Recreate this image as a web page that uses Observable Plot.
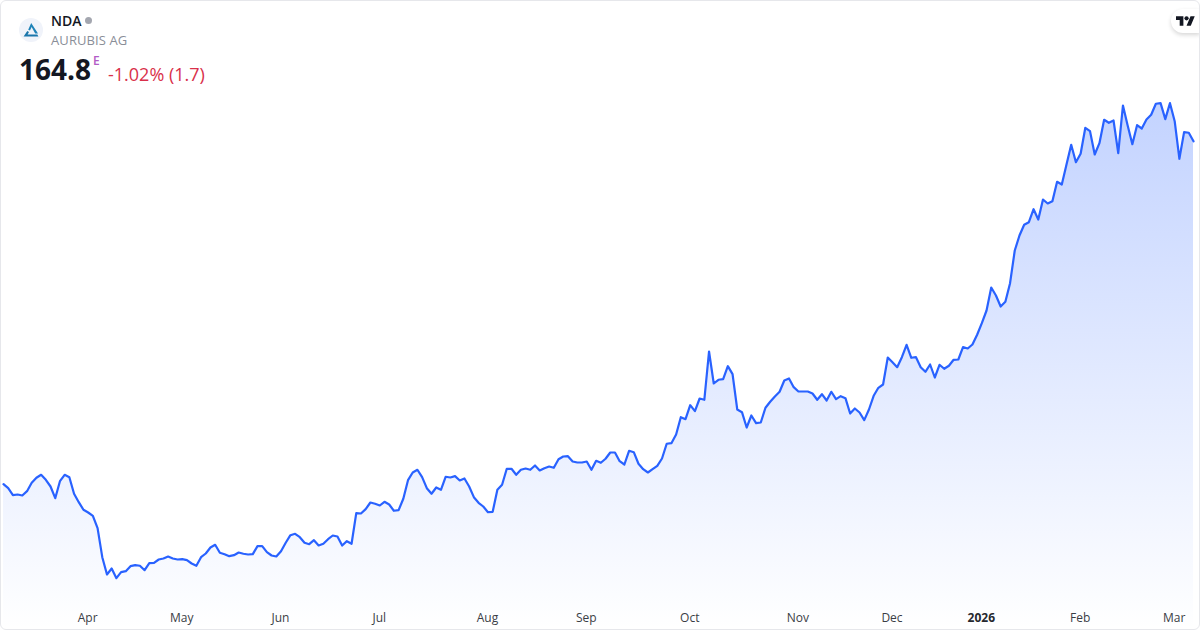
<!DOCTYPE html>
<html>
<head>
<meta charset="utf-8">
<script src="https://cdn.jsdelivr.net/npm/d3@7"></script>
<script src="https://cdn.jsdelivr.net/npm/@observablehq/plot@0.6"></script>
<style>
html,body{margin:0;padding:0;background:#fff;}
body{width:1200px;height:630px;overflow:hidden;position:relative;font-family:"Open Sans","Noto Sans",sans-serif;}
#chart{position:absolute;left:0;top:0;}
#chart svg{display:block;}
#frame{position:absolute;left:0;top:0;width:1198px;height:628px;border:1px solid #e6e7eb;border-radius:6px;pointer-events:none;}
.t{position:absolute;white-space:nowrap;line-height:1;}
#logo{position:absolute;left:19px;top:18px;}
#tv{position:absolute;left:1171px;top:9px;width:29px;height:24px;background:#fff;border-radius:12px 0 0 12px;box-shadow:0 2px 4px rgba(0,0,0,.16);}
</style>
</head>
<body>
<div id="chart"></div>
<svg id="logo" width="24" height="24" viewBox="0 0 24 24">
  <circle cx="12" cy="12" r="12" fill="#f0f3fa"/>
  <path d="M12.2 5 L9.2 11.8 L11 12.6 L12.6 9 L16.2 15.4 H19 Z" fill="#1f83b8"/>
  <path d="M8.3 13 L4.6 18.4 H19.4 L18.3 16.4 H8.6 L10 14 Z" fill="#1b76ab"/>
</svg>
<div class="t" id="sym" style="left:51px;top:14px;font-size:14px;font-weight:600;color:#131722;"></div>
<div style="position:absolute;left:85px;top:17px;width:7px;height:7px;border-radius:50%;background:#a3a6af;"></div>
<div class="t" id="name" style="left:51px;top:33.5px;font-size:13px;color:#8a8e98;letter-spacing:.1px;"></div>
<div class="t" id="price" style="left:19px;top:55px;font-size:28px;font-weight:700;color:#131722;"></div>
<div class="t" style="left:93px;top:55px;font-size:12px;font-weight:600;color:#b35cc6;">E</div>
<div class="t" id="chg" style="left:108px;top:65px;font-size:18px;color:#d9304a;"></div>
<div id="tv"><svg width="19" height="15" viewBox="0 0 36 28" style="position:absolute;left:5px;top:5px;"><path d="M14 22H7V11H0V4h14v18zM28 22h-8l7.5-18h8L28 22z" fill="#131722"/><circle cx="20" cy="8" r="4" fill="#131722"/></svg></div>
<div id="frame"></div>
<script>
const symbol = "NDA";
const company = "AURUBIS AG";
const lastPrice = "164.8";
const change = "-1.02% (1.7)";

const pricesSpring = [79.08,78.08,76.33,76.5,76.25,77.33,79.43,80.68,81.43,80.18,78.5,75.58,79.83,81.43,80.83,76.68,74.58,72.68,72,71.18,68.08,60.83,56.5,58,55.58,57.08,57.33,58.58,58.83,58.68,57.58,59.33,59.43,60.25,60.5,61,60.5,60.25,60.33,60.08,59.25,58.68,60.83,61.75,63.25,63.93,61.93,61.58,61.08,61.33,62,61.68,61.5,61.58,63.58,63.58,62.08,61.25,61,62.33,64.43,66.33,66.68,65.83];
const pricesSummer = [64.43,64.08,65.08,63.75,64.18,65.33,66.25,66,63.75,64.83,64.18,71.83,71.75,72.83,74.5,74.18,73.75,74.68,74,72.43,72.58,75.43,80.08,82,82.68,80.83,78.08,76.68,78.25,77.68,80.93,80.75,81.08,80,80.5,78.5,75.83,74.43,73.5,72.08,72.18,77.68,78.93,82.93,82.93,81.43,82.68,83,82.68,83.75,82.5,83.08,83.5,83.18,85.33,86,86.08,84.75,84.5,84.5,84.75,82.68,84.93,84.43];
const pricesAutumn = [85.43,87,87,84.83,84,87.43,87.08,84.18,82.83,82,82.83,83.68,85.5,89.18,89.33,91.5,95.83,95.33,98.83,97.33,100.5,100.18,112.25,104.25,105.18,105.33,108.58,106.58,97.75,97.08,93.25,96.25,94.33,94.5,98.18,99.68,101,102.18,105,105.5,103.33,102.25,102.25,102.25,101.75,100.18,101.58,100,102.18,100.33,101.08,100.58,96.75,98,97,95.08,97.75,101.18,103.18,104];
const pricesWinter = [110.75,109.58,108.33,110.83,113.93,110.68,110.83,108.33,107.18,109,105.75,108.93,107.93,108.68,110.18,110.25,113.33,113,114,116.43,119.33,122.5,128.25,126.25,123.5,124.68,129.33,137.5,141.25,143.93,144.58,147.83,145.25,150.25,149.25,149.83,154.68,154,159,163.93,159.58,161.68,168.18,167.33,161.5,164.33,170.18,169.43,170,161.83,173.75,168.75,164.08,168.83,168,170.25,171.43,174.18,174.33,170.33,174.33,169.83,160.43,167.08,166.93,164.8];

const monthLabels = ["Apr","May","Jun","Jul","Aug","Sep","Oct","Nov","Dec","Feb","Mar"];
const monthSessions = [18,38,59,80,103,124,146,169,189,229,249];
const yearLabel = "2026";
const yearSession = 208;

const prices = [...pricesSpring,...pricesSummer,...pricesAutumn,...pricesWinter];
const data = prices.map((p,i)=>({i,p}));
const floorPrice = 42.5;

document.getElementById("sym").textContent = symbol;
document.getElementById("name").textContent = company;
document.getElementById("price").textContent = lastPrice;
document.getElementById("chg").textContent = change;

const defs = () => {
  const ns = "http://www.w3.org/2000/svg";
  const d = document.createElementNS(ns,"defs");
  d.innerHTML = '<linearGradient id="areaFill" x1="0" y1="0" x2="0" y2="1">'+
    '<stop offset="0" stop-color="#2962ff" stop-opacity="0.28"/>'+
    '<stop offset="1" stop-color="#2962ff" stop-opacity="0"/></linearGradient>';
  return d;
};

const chart = Plot.plot({
  width:1200, height:630,
  marginTop:0, marginRight:0, marginLeft:0, marginBottom:22,
  style:{background:"transparent",fontFamily:'"Open Sans","Noto Sans",sans-serif'},
  x:{domain:[0,prices.length-1],range:[3,1193],axis:null},
  y:{domain:[floorPrice,200],range:[630,0],axis:null},
  marks:[
    defs,
    Plot.areaY(data,{x:"i",y1:floorPrice,y2:"p",fill:"url(#areaFill)"}),
    Plot.lineY(data,{x:"i",y:"p",stroke:"#2962ff",strokeWidth:2.2,strokeLinejoin:"round"}),
    Plot.axisX(monthSessions,{anchor:"bottom",tickSize:0,tickPadding:5,dx:-0.5,fontSize:12,fill:"#3a3d45",
      label:null,tickFormat:(d)=>monthLabels[monthSessions.indexOf(d)]}),
    Plot.axisX([yearSession],{anchor:"bottom",tickSize:0,tickPadding:5,dx:-0.5,fontSize:12,fontWeight:700,fill:"#26282e",
      label:null,tickFormat:()=>yearLabel})
  ]
});
document.getElementById("chart").appendChild(chart);
</script>
</body>
</html>
